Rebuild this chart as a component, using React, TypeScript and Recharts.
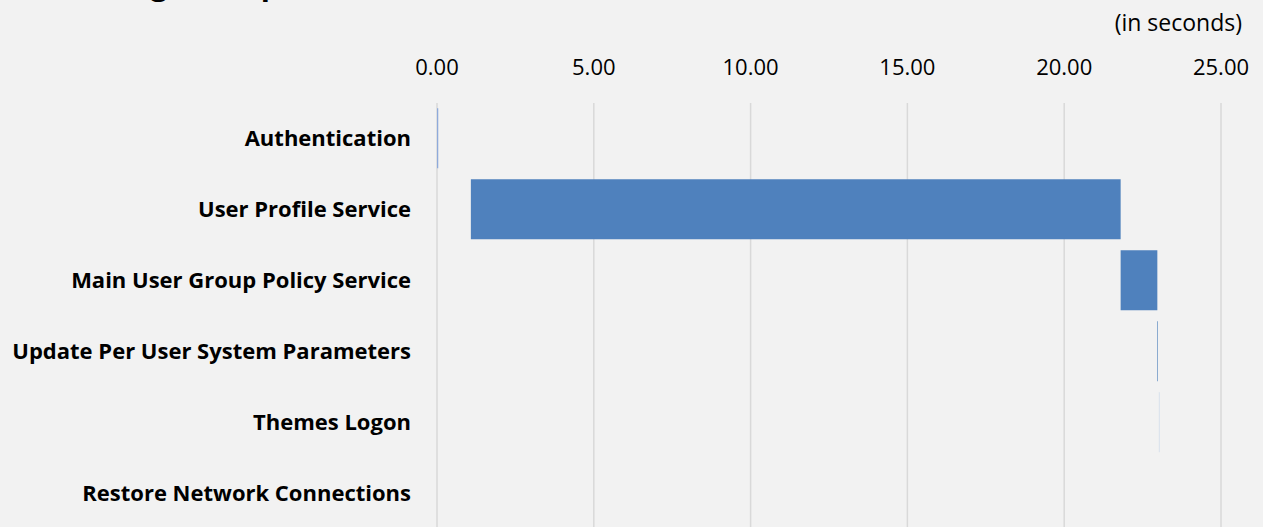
import React from 'react';
import { BarChart, Bar, XAxis, YAxis, CartesianGrid, Cell } from 'recharts';

const steps = [
  'Authentication',
  'User Profile Service',
  'Main User Group Policy Service',
  'Update Per User System Parameters',
  'Themes Logon',
  'Restore Network Connections',
];
const startSeconds = [0, 1.08, 21.8, 22.96, 23.02, 23.05];
const durationSeconds = [0.04, 20.72, 1.17, 0.02, 0.015, 0];
const barColors = ['#8eaadb', '#4f81bd', '#4f81bd', '#4f81bd', '#b9cde5', '#4f81bd'];
const xTicks = [0, 5, 10, 15, 20, 25];

const data = steps.map((name, i) => ({
  name,
  start: startSeconds[i],
  duration: durationSeconds[i],
}));

const font = "'Open Sans', 'Noto Sans', sans-serif";

export default function App() {
  return (
    <div
      style={{
        position: 'absolute',
        left: 0,
        top: 0,
        width: 1263,
        height: 527,
        background: '#f2f2f2',
        overflow: 'hidden',
        fontFamily: font,
      }}
    >
      {/* title sits mostly above the visible area, as in the original */}
      <div
        style={{
          position: 'absolute',
          left: 115,
          top: -36,
          fontSize: 30,
          fontWeight: 700,
          color: '#000',
          lineHeight: '40px',
        }}
      >
        Logon Steps
      </div>
      <div
        style={{
          position: 'absolute',
          right: 21,
          top: 6,
          fontSize: 23,
          lineHeight: '32px',
          color: '#000',
        }}
      >
        (in seconds)
      </div>
      <BarChart
        width={1263}
        height={529}
        data={data}
        layout="vertical"
        margin={{ top: 0, right: 42, bottom: 0, left: 0 }}
        barCategoryGap="7.5%"
      >
        <CartesianGrid horizontal={false} stroke="#d9d9d9" strokeWidth={1.5} />
        <XAxis
          type="number"
          orientation="top"
          domain={[0, 25]}
          ticks={xTicks}
          height={103}
          axisLine={false}
          tickLine={false}
          tickSize={0}
          tickMargin={28}
          tickFormatter={(v: number) => v.toFixed(2)}
          tick={{ fill: '#000', fontSize: 22, fontFamily: font }}
        />
        <YAxis
          type="category"
          dataKey="name"
          width={437}
          axisLine={false}
          tickLine={false}
          tickSize={0}
          tickMargin={26}
          interval={0}
          tick={{ fill: '#000', fontSize: 22, fontWeight: 700, fontFamily: font }}
        />
        <Bar dataKey="start" stackId="a" fill="transparent" isAnimationActive={false} />
        <Bar dataKey="duration" stackId="a" isAnimationActive={false}>
          {data.map((d, i) => (
            <Cell key={d.name} fill={barColors[i]} />
          ))}
        </Bar>
      </BarChart>
    </div>
  );
}
